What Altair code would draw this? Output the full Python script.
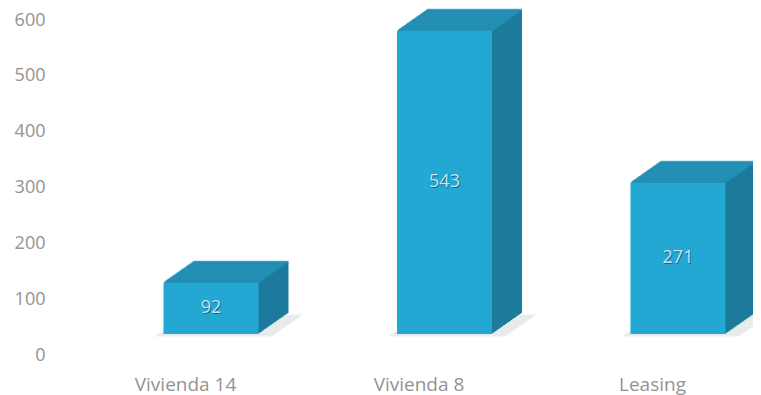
import altair as alt
import pandas as pd

categories = ["Vivienda 14", "Vivienda 8", "Leasing"]
values = [92, 543, 271]
y_ticks = [0, 100, 200, 300, 400, 500, 600]

df = pd.DataFrame({"cat": categories, "value": values})

FRONT = "#23a7d3"
TOP = "#2591b6"
SIDE = "#1d7b9c"
LABEL = "#939393"
FONT = "Open Sans"

BAR_W = 95
DX = 26      # front face shift from band centre
DY = -21     # front face shift from the axis baseline
DEPTH = 30   # extrusion depth in px
SLOPE = 0.7

x_enc = alt.X(
    "cat:N", sort=categories, title=None,
    scale=alt.Scale(type="point", padding=0.4326),
    axis=alt.Axis(domain=False, ticks=False, grid=False, labelAngle=0,
                  labelFont=FONT, labelFontSize=19, labelColor=LABEL,
                  labelPadding=20),
)
y_axis = alt.Axis(domain=False, ticks=False, grid=False, values=y_ticks,
                  labelFont=FONT, labelFontSize=18, labelColor=LABEL,
                  labelPadding=5, offset=34)
y_scale = alt.Scale(domain=[0, 600], nice=False)

base = alt.Chart(df).encode(
    x=x_enc,
    y=alt.Y("value:Q", scale=y_scale, axis=y_axis, title=None),
)

layers = []

# soft shadow on the floor
for k in range(0, DEPTH + 1, 1):
    layers.append(
        alt.Chart(df).mark_tick(size=BAR_W + 22, thickness=2, color="#1f2c33",
                                opacity=0.035, xOffset=DX + k + 3,
                                yOffset=DY - k * SLOPE + 2)
        .encode(x=x_enc, y=alt.Y("datum_zero:Q", scale=y_scale, axis=y_axis, title=None))
        .transform_calculate(datum_zero="0")
    )

# extrusion (side + top), from back to front
for k in range(DEPTH, 0, -1):
    layers.append(base.mark_bar(width=BAR_W, color=SIDE, xOffset=DX + k,
                                yOffset=DY - k * SLOPE))
    layers.append(base.mark_tick(size=BAR_W, thickness=2, color=TOP,
                                 xOffset=DX + k, yOffset=DY - k * SLOPE))

# front face
layers.append(base.mark_bar(width=BAR_W, color=FRONT, xOffset=DX, yOffset=DY))

# value labels
txt = alt.Chart(df).transform_calculate(half="datum.value / 2").encode(
    x=x_enc,
    y=alt.Y("half:Q", scale=y_scale, axis=y_axis, title=None),
    text=alt.Text("value:Q"),
)
layers.append(txt.mark_text(font=FONT, fontSize=18, color="#156a88",
                            xOffset=DX + 1, yOffset=DY + 1))
layers.append(txt.mark_text(font=FONT, fontSize=18, color="#c4e4f0",
                            xOffset=DX, yOffset=DY))

chart = alt.layer(*layers).properties(
    width=669, height=335,
    autosize=alt.AutoSizeParams(type="none"),
    padding={"left": 76, "top": 12, "right": 0, "bottom": 40},
    background="white",
).configure_view(stroke=None)

chart.save("out.html", embed_options={"renderer": "svg", "actions": False})
